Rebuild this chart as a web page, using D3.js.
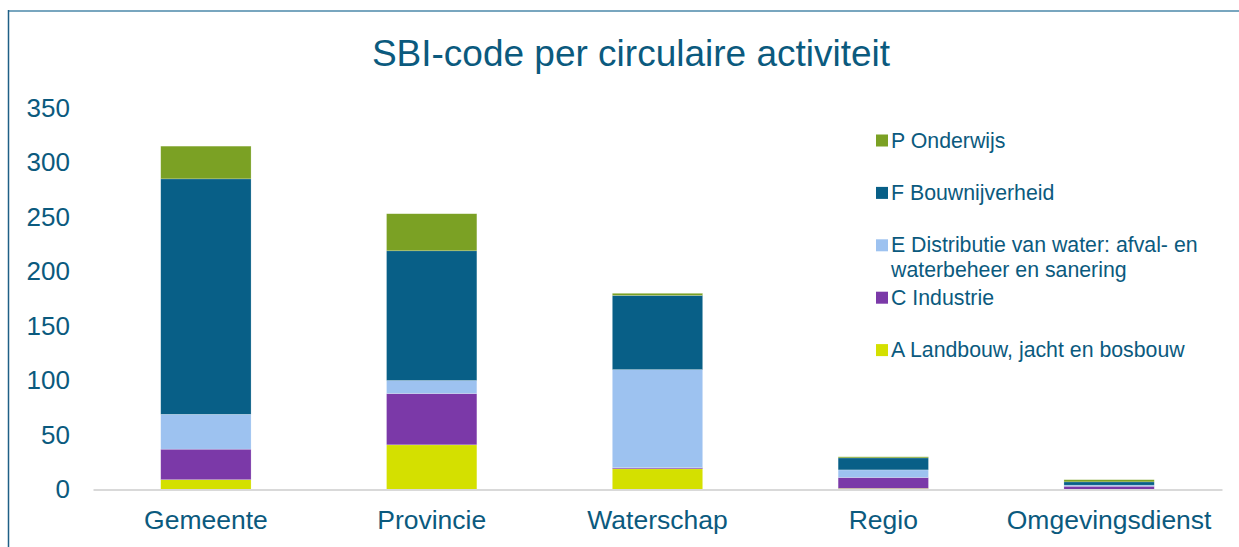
<!DOCTYPE html>
<html>
<head>
<meta charset="utf-8">
<script src="https://cdn.jsdelivr.net/npm/d3@7"></script>
<style>
  html, body { margin: 0; padding: 0; background: #fff; }
  svg { display: block; font-family: "Liberation Sans", Arial, sans-serif; }
</style>
</head>
<body>
<div id="chart"></div>
<script>
// data
const categories = ['Gemeente', 'Provincie', 'Waterschap', 'Regio', 'Omgevingsdienst']
const seriesKeys = ['A', 'C', 'E', 'F', 'P']
const seriesNames = {
  A: 'A Landbouw, jacht en bosbouw',
  C: 'C Industrie',
  E: 'E Distributie van water: afval- en waterbeheer en sanering',
  F: 'F Bouwnijverheid',
  P: 'P Onderwijs'
}
const valuesA = [9, 41, 19, 1, 0]
const valuesC = [28, 47, 1, 10, 3]
const valuesE = [32, 12, 90, 7, 1]
const valuesF = [216, 119, 68, 11, 3]
const valuesP = [30, 34, 2, 1, 2]
const yTicks = [0, 50, 100, 150, 200, 250, 300, 350]

// consts
const width = 1239, height = 547
const margin = { top: 108, bottom: 57, left: 93, right: 17 }
const colors = { A: '#d4e000', C: '#7b39a8', E: '#9dc2f0', F: '#085f87', P: '#7ba124' }
const textColor = '#0b5a7e'

const table = categories.map((c, i) => ({
  category: c, A: valuesA[i], C: valuesC[i], E: valuesE[i], F: valuesF[i], P: valuesP[i]
}))

const svg = d3.select('#chart').append('svg')
  .attr('width', width)
  .attr('height', height)

// frame
svg.append('line').attr('x1', 9).attr('x2', width).attr('y1', 11).attr('y2', 11)
  .attr('stroke', '#4b88aa').attr('stroke-width', 1.5)
svg.append('line').attr('x1', 8.5).attr('x2', 8.5).attr('y1', 10).attr('y2', height)
  .attr('stroke', '#1f5f86').attr('stroke-width', 1.5)

// title
svg.append('text')
  .attr('x', 631).attr('y', 66)
  .attr('text-anchor', 'middle')
  .attr('fill', textColor)
  .style('font-size', '37px')
  .text('SBI-code per circulaire activiteit')

// scales
const x = d3.scaleBand()
  .domain(categories)
  .range([margin.left, width - margin.right])
  .paddingInner(0.6)
  .paddingOuter(0.3)
const y = d3.scaleLinear()
  .domain([0, 350])
  .range([height - margin.bottom - 0.5, margin.top])

// bars
const stacked = d3.stack().keys(seriesKeys)(table)
svg.append('g').selectAll('g')
  .data(stacked)
  .join('g')
  .attr('fill', d => colors[d.key])
  .selectAll('rect')
  .data(d => d)
  .join('rect')
  .attr('x', d => x(d.data.category))
  .attr('width', x.bandwidth())
  .attr('y', d => y(d[1]))
  .attr('height', d => y(d[0]) - y(d[1]))
  .attr('stroke', 'rgba(255,255,255,0.35)')
  .attr('stroke-width', 0.6)

// y axis
const yAxis = svg.append('g')
  .attr('transform', `translate(70,0)`)
  .call(d3.axisLeft(y).tickValues(yTicks).tickSize(0).tickPadding(0))
yAxis.select('.domain').remove()
yAxis.selectAll('text')
  .attr('fill', textColor)
  .style('font-size', '26px')
  .style('font-family', '"Liberation Sans", Arial, sans-serif')

// x axis
const xAxis = svg.append('g')
  .attr('transform', `translate(0,${y(0)})`)
  .call(d3.axisBottom(x).tickSize(0).tickPadding(21))
xAxis.select('.domain').attr('stroke', '#d9d9d9').attr('stroke-width', 2)
xAxis.selectAll('text')
  .attr('fill', textColor)
  .style('font-size', '26.5px')
  .style('font-family', '"Liberation Sans", Arial, sans-serif')

// legend
const legendOrder = ['P', 'F', 'E', 'C', 'A']
const legend = svg.append('g').attr('transform', 'translate(876,140)')
legendOrder.forEach((k, i) => {
  const g = legend.append('g').attr('transform', `translate(0,${i * 52.4})`)
  g.append('rect').attr('x', 0).attr('y', -5.5).attr('width', 12).attr('height', 12)
    .attr('fill', colors[k])
  const t = g.append('text')
    .attr('x', 15).attr('y', 7.5)
    .attr('fill', textColor)
    .style('font-size', '21.3px')
  if (k === 'E') {
    t.append('tspan').attr('x', 15).text('E Distributie van water: afval- en')
    t.append('tspan').attr('x', 15).attr('dy', 24.7).text('waterbeheer en sanering')
  } else {
    t.text(seriesNames[k])
  }
})
</script>
</body>
</html>
